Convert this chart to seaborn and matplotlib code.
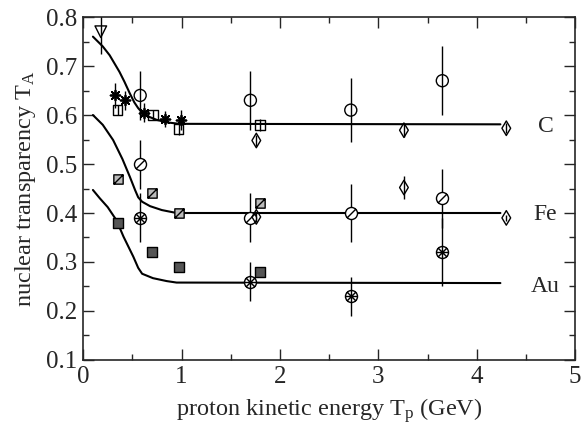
import numpy as np
import matplotlib
matplotlib.use("Agg")
import matplotlib.pyplot as plt
from matplotlib.path import Path
from matplotlib.ticker import MultipleLocator
import seaborn as sns

# ---- data ----
# carbon
c_tri_x, c_tri_y, c_tri_err = [0.18], [0.77], [0.045]
c_star_x = [0.32, 0.43, 0.62, 0.83, 0.99]
c_star_y = [0.64, 0.63, 0.605, 0.592, 0.59]
c_star_err = [0.025, 0.02, 0.02, 0.017, 0.02]
c_sq_x = [0.35, 0.71, 0.97, 1.80]
c_sq_y = [0.61, 0.60, 0.571, 0.58]
c_sq_err = [0.01, 0.01, 0.012, 0.012]
c_circ_x = [0.58, 1.70, 2.72, 3.65]
c_circ_y = [0.64, 0.63, 0.61, 0.67]
c_circ_err = [0.05, 0.06, 0.065, 0.07]
c_dia_x = [1.76, 3.26, 4.30]
c_dia_y = [0.548, 0.569, 0.573]
c_dia_err = [0.012, 0.013, 0.01]

# iron
fe_sq_x = [0.35, 0.70, 0.97, 1.80]
fe_sq_y = [0.47, 0.44, 0.40, 0.42]
fe_circ_x = [0.58, 1.70, 2.72, 3.65]
fe_circ_y = [0.50, 0.39, 0.40, 0.43]
fe_circ_err = [0.05, 0.05, 0.06, 0.06]
fe_dia_x = [1.76, 3.26, 4.30]
fe_dia_y = [0.392, 0.452, 0.39]
fe_dia_err = [0.01, 0.023, 0.006]

# gold
au_sq_x = [0.35, 0.70, 0.97, 1.80]
au_sq_y = [0.38, 0.32, 0.29, 0.28]
au_circ_x = [0.58, 1.70, 2.72, 3.65]
au_circ_y = [0.39, 0.26, 0.23, 0.32]
au_circ_err = [0.05, 0.04, 0.04, 0.07]

# model curves
c_curve_x = [0.10, 0.20, 0.27, 0.37, 0.42, 0.475, 0.52, 0.56, 0.60, 0.65, 0.75, 0.85, 0.98, 4.24]
c_curve_y = [0.76, 0.74, 0.722, 0.688, 0.668, 0.644, 0.626, 0.614, 0.605, 0.598, 0.59, 0.585, 0.582, 0.581]
fe_curve_x = [0.10, 0.20, 0.305, 0.40, 0.475, 0.53, 0.56, 0.60, 0.68, 0.80, 0.95, 4.24]
fe_curve_y = [0.60, 0.58, 0.549, 0.51, 0.474, 0.446, 0.432, 0.423, 0.414, 0.406, 0.40, 0.40]
au_curve_x = [0.10, 0.17, 0.25, 0.34, 0.41, 0.51, 0.56, 0.60, 0.71, 0.85, 0.95, 4.24]
au_curve_y = [0.447, 0.43, 0.412, 0.385, 0.352, 0.311, 0.288, 0.276, 0.267, 0.261, 0.258, 0.257]

labels = ["C", "Fe", "Au"]
label_y = [0.577, 0.396, 0.249]

# ---- style ----
sns.set_style("ticks")
plt.rcParams["font.family"] = ["Liberation Serif", "DejaVu Serif"]
plt.rcParams["mathtext.fontset"] = "custom"
plt.rcParams["mathtext.rm"] = "Liberation Serif"
plt.rcParams["mathtext.it"] = "Liberation Serif:italic"

# custom markers
circle = Path.unit_circle()
square = Path.unit_rectangle()
square = Path(square.vertices * 2 - 1, square.codes)
slash = Path([(-0.72, -0.72), (0.72, 0.72)], [Path.MOVETO, Path.LINETO])
slash_sq = Path([(-1, -1), (1, 1)], [Path.MOVETO, Path.LINETO])
cross = Path([(-0.72, -0.72), (0.72, 0.72), (-0.72, 0.72), (0.72, -0.72)],
             [Path.MOVETO, Path.LINETO, Path.MOVETO, Path.LINETO])
plus = Path([(-1, 0), (1, 0), (0, -1), (0, 1)],
            [Path.MOVETO, Path.LINETO, Path.MOVETO, Path.LINETO])
circ_slash = Path.make_compound_path(circle, slash)
circ_cross = Path.make_compound_path(circle, cross, plus)
sq_slash = Path.make_compound_path(square, slash_sq)

fig, ax = plt.subplots(figsize=(5.81, 4.26), dpi=100)
fig.subplots_adjust(left=0.143, right=0.99, top=0.96, bottom=0.155)

for cx, cy in [(c_curve_x, c_curve_y), (fe_curve_x, fe_curve_y), (au_curve_x, au_curve_y)]:
    sns.lineplot(x=cx, y=cy, ax=ax, color="black", linewidth=1.5, sort=False, estimator=None)


def errs(x, y, e):
    ax.errorbar(x, y, yerr=e, fmt="none", ecolor="black", elinewidth=1, capsize=0)


def pts(x, y, marker, s, fc="none", lw=1.0):
    sns.scatterplot(x=x, y=y, ax=ax, marker=marker, s=s, color="black",
                    facecolor=fc, edgecolor="black", linewidth=lw, zorder=3)


errs(c_tri_x, c_tri_y, c_tri_err)
errs(c_star_x, c_star_y, c_star_err)
errs(c_sq_x, c_sq_y, c_sq_err)
errs(c_circ_x, c_circ_y, c_circ_err)
errs(c_dia_x, c_dia_y, c_dia_err)
errs(fe_circ_x, fe_circ_y, fe_circ_err)
errs(fe_dia_x, fe_dia_y, fe_dia_err)
errs(au_circ_x, au_circ_y, au_circ_err)

pts(c_tri_x, c_tri_y, "v", 70)
pts(c_star_x, c_star_y, (8, 2, 0), 50, fc="black", lw=1.3)
pts(c_sq_x, c_sq_y, "s", 50)
pts(c_circ_x, c_circ_y, "o", 75)
pts(c_dia_x, c_dia_y, "d", 55)

pts(fe_sq_x, fe_sq_y, sq_slash, 45, fc="#bbbbbb")
pts(fe_circ_x, fe_circ_y, circ_slash, 75, fc="white")
pts(fe_dia_x, fe_dia_y, "d", 55)

pts(au_sq_x, au_sq_y, "s", 50, fc="#555555")
pts(au_circ_x, au_circ_y, circ_cross, 75, fc="white")

for lab, ly in zip(labels, label_y):
    ax.text(4.70, ly, lab, fontsize=17, ha="center", va="center")

ax.set_xlim(0, 5)
ax.set_ylim(0.1, 0.8)
ax.xaxis.set_major_locator(MultipleLocator(1))
ax.xaxis.set_minor_locator(MultipleLocator(0.5))
ax.yaxis.set_major_locator(MultipleLocator(0.1))
ax.yaxis.set_minor_locator(MultipleLocator(0.05))
ax.tick_params(which="both", direction="in", top=True, right=True, labelsize=18, width=1)
ax.tick_params(which="major", length=8, pad=4)
ax.tick_params(which="minor", length=4)
for sp in ax.spines.values():
    sp.set_linewidth(1.2)

ax.set_xlabel(r"proton kinetic energy T$_\mathrm{p}$ (GeV)", fontsize=17.5, labelpad=6)
ax.set_ylabel(r"nuclear transparency T$_\mathrm{A}$", fontsize=17.5, labelpad=6)

fig.savefig("out.png", dpi=100)
